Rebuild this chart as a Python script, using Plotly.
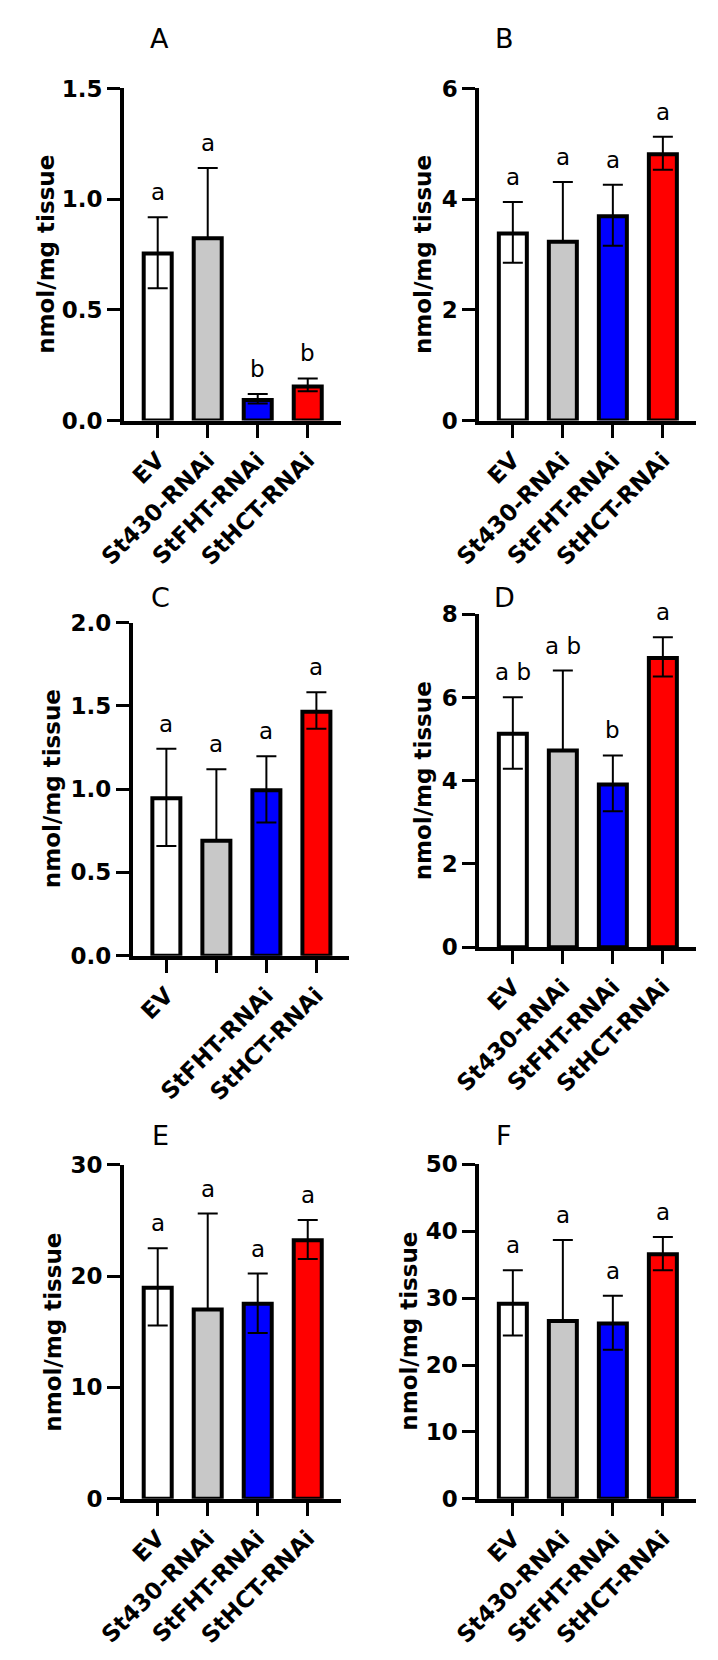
import plotly.graph_objects as go

W, H = 718, 1660

categories = ["EV", "St430-RNAi", "StFHT-RNAi", "StHCT-RNAi"]
bar_colors = ["#FFFFFF", "#C8C8C8", "#0000FF", "#FF0000"]

# Panel A
a_mean = [0.755, 0.824, 0.093, 0.154]
a_up = [0.163, 0.317, 0.027, 0.036]
a_down = [0.157, 0.0, 0.016, 0.022]
a_letters = ["a", "a", "b", "b"]
a_ticks = [0, 0.5, 1.0, 1.5]

# Panel B
b_mean = [3.38, 3.23, 3.69, 4.81]
b_up = [0.57, 1.08, 0.57, 0.32]
b_down = [0.53, 0.0, 0.53, 0.28]
b_letters = ["a", "a", "a", "a"]
b_ticks = [0, 2, 4, 6]

# Panel C
c_mean = [0.945, 0.69, 0.994, 1.465]
c_up = [0.297, 0.429, 0.203, 0.117]
c_down = [0.287, 0.0, 0.194, 0.102]
c_letters = ["a", "a", "a", "a"]
c_ticks = [0, 0.5, 1.0, 1.5, 2.0]
c_ticklabels = ["EV", "", "StFHT-RNAi", "StHCT-RNAi"]

# Panel D
d_mean = [5.13, 4.73, 3.91, 6.95]
d_up = [0.88, 1.92, 0.70, 0.50]
d_down = [0.84, 0.0, 0.64, 0.44]
d_letters = ["a b", "a b", "b", "a"]
d_ticks = [0, 2, 4, 6, 8]

# Panel E
e_mean = [18.94, 16.98, 17.51, 23.21]
e_up = [3.55, 8.63, 2.71, 1.81]
e_down = [3.39, 0.0, 2.62, 1.68]
e_letters = ["a", "a", "a", "a"]
e_ticks = [0, 10, 20, 30]

# Panel F
f_mean = [29.16, 26.58, 26.22, 36.56]
f_up = [5.02, 12.1, 4.13, 2.58]
f_down = [4.75, 0.0, 3.93, 2.38]
f_letters = ["a", "a", "a", "a"]
f_ticks = [0, 10, 20, 30, 40, 50]

y_title = "nmol/mg tissue"

FONT = "DejaVu Sans"

# layout specs in pixels
panels = [
    ("A", a_mean, a_up, a_down, a_letters, a_ticks, categories, 101, 326, 76.7, 414, 138, 26, 19, ".1f"),
    ("B", b_mean, b_up, b_down, b_letters, b_ticks, categories, 470, 695, 76.7, 414, 496, 26, 411, "d"),
    ("C", c_mean, c_up, c_down, c_letters, c_ticks, c_ticklabels, 110, 335, 619.3, 957.7, 139, 594, 26, ".1f"),
    ("D", d_mean, d_up, d_down, d_letters, d_ticks, categories, 470, 695, 611, 949, 496, 594, 411, "d"),
    ("E", e_mean, e_up, e_down, e_letters, e_ticks, categories, 101, 326, 1170, 1509.3, 139, 1140, 27, "d"),
    ("F", f_mean, f_up, f_down, f_letters, f_ticks, categories, 470, 695, 1169.7, 1509.5, 496, 1140, 397, "d"),
]

fig = go.Figure()
annotations = []
layout_axes = {}

ytickfont = dict(family=FONT, size=23, color="black", weight="bold")
xtickfont = dict(family=FONT, size=23, color="black", weight="bold")

for i, (lab, mean, up, down, letters, yt, xt, xl, xr, yt_px, yb_px, tx, ty, ytx, tf) in enumerate(panels):
    n = i + 1
    xa = "x" if n == 1 else f"x{n}"
    ya = "y" if n == 1 else f"y{n}"
    fig.add_trace(go.Bar(
        x=list(range(len(categories))), y=mean,
        xaxis=xa, yaxis=ya,
        width=0.56,
        marker=dict(color=bar_colors, line=dict(color="black", width=4)),
        error_y=dict(type="data", symmetric=False, array=up, arrayminus=down,
                     color="black", thickness=2, width=10),
        showlegend=False, hoverinfo="skip",
    ))
    ymax = yt[-1]
    layout_axes[f"xaxis{'' if n == 1 else n}"] = dict(
        domain=[xl / W, xr / W], anchor=ya,
        range=[-0.67, 3.66], tickmode="array",
        tickvals=list(range(len(categories))), ticktext=xt,
        tickangle=-45, ticks="outside", ticklen=13, tickwidth=3, tickcolor="black",
        showline=True, linewidth=4, linecolor="black",
        showgrid=False, zeroline=False, tickfont=xtickfont, fixedrange=True,
    )
    layout_axes[f"yaxis{'' if n == 1 else n}"] = dict(
        domain=[1 - yb_px / H, 1 - yt_px / H], anchor=xa,
        range=[0, ymax], tickmode="array", tickvals=yt,
        tickformat=tf, ticks="outside", ticklen=13, tickwidth=3, tickcolor="black",
        showline=True, linewidth=4, linecolor="black",
        showgrid=False, zeroline=False, tickfont=ytickfont, fixedrange=True,
    )
    for j, letter in enumerate(letters):
        annotations.append(dict(
            x=j, y=mean[j] + up[j], xref=xa, yref=ya,
            text=letter, showarrow=False, yanchor="middle", yshift=25,
            font=dict(family=FONT, size=23, color="black"),
        ))
    annotations.append(dict(
        x=tx / W, y=1 - ty / H, xref="paper", yref="paper",
        text=lab, showarrow=False, xanchor="center", yanchor="middle",
        font=dict(family=FONT, size=27, color="black"),
    ))
    annotations.append(dict(
        x=ytx / W, y=1 - ((yt_px + yb_px) / 2) / H, xref="paper", yref="paper",
        text=y_title, showarrow=False, textangle=-90,
        xanchor="center", yanchor="middle",
        font=dict(family=FONT, size=23, color="black", weight="bold"),
    ))

fig.update_layout(
    width=W, height=H,
    margin=dict(l=0, r=0, t=0, b=0),
    paper_bgcolor="white", plot_bgcolor="white",
    annotations=annotations,
    **layout_axes,
)

fig.write_html(
    "out.html",
    config={"displayModeBar": False, "staticPlot": True},
    post_script="document.body.style.margin='0px';document.body.style.overflow='hidden';",
)
